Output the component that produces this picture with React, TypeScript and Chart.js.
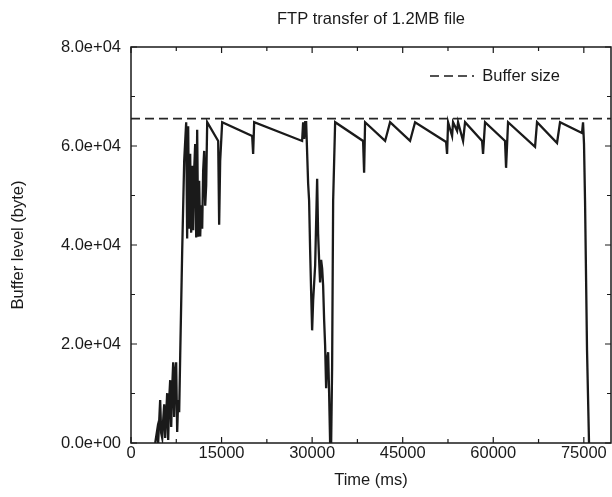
import React, { useEffect, useRef } from 'react';
import { Chart, registerables } from 'chart.js';

Chart.register(...registerables);

// ---- data ----
const timeMs = [
  4010, 4340, 4500, 4830, 5000, 5170, 5330, 5500, 5660, 5990, 6160, 6330, 6490, 6660, 6820, 6990, 7150, 7320, 7480, 7650, 7810, 7980, 8150, 8480, 8810, 9140,
  9300, 9470, 9630, 9800, 9970, 10130, 10300, 10460, 10630, 10800, 10960, 11130, 11290, 11460, 11620, 11790, 11950, 12120, 12290, 12450, 12620,
  14440, 14600, 14770, 15100, 20070, 20230, 20400,
  28340, 28510, 28680, 28850, 29010, 29340, 29500, 29670, 29830, 30000, 30170, 30500, 30830, 30990, 31160, 31320, 31490, 31660, 31820,
  31990, 32150, 32320, 32480, 32650, 32810, 32980, 33150, 33310, 33480, 33810,
  38440, 38610, 38770, 42090, 42910, 46220, 47050,
  52190, 52350, 52520, 53180, 53340, 54010, 54170, 55000, 55330,
  58150, 58310, 58640, 61950, 62120, 62450, 66920, 67250, 70560, 71060,
  74700, 74870, 75030, 75200, 75530, 75860,
];
const bufferBytes = [
  0, 2620, 0, 8660, 2000, 1010, 4630, 7800, 1010, 10070, 600, 9000, 12690, 3220, 11000, 16310, 5240, 14500, 16310, 2220, 8660, 6240, 17720, 38870, 57000, 64800,
  41300, 64000, 43300, 58410, 42500, 56000, 43000, 54980, 60420, 41500, 63260, 41690, 52970, 41700, 48000, 43300, 55000, 59010, 47930, 52000, 64800,
  61020, 44110, 57000, 64800, 62030, 58410, 64800,
  61020, 64800, 61430, 64800, 64800, 52360, 48940, 38870, 30810, 22760, 28800, 35850, 53370, 42290, 36860, 32430, 37000, 35250, 31820,
  24770, 19740, 11080, 16720, 18330, 10270, 0, 0, 15310, 48940, 64800,
  61020, 54580, 64800, 61020, 64800, 61020, 64800,
  60820, 58410, 64800, 62030, 64800, 63060, 64800, 61020, 64800,
  61020, 58410, 64800, 61020, 55590, 64800, 59820, 64800, 60620, 64800,
  62640, 64800, 60420, 48940, 18730, 0,
];
const bufferSize = 65536;
const xRange = [0, 79500];
const xTickValues = [0, 15000, 30000, 45000, 60000, 75000];
const xMinorStep = 7500;
const yTickValues = [0, 20000, 40000, 60000, 80000];
const yMinorStep = 10000;
const titleText = 'FTP transfer of 1.2MB file';
const xTitle = 'Time (ms)';
const yTitle = 'Buffer level (byte)';
const legendText = 'Buffer size';

function fmtExp(v: number): string {
  if (v === 0) return '0.0e+00';
  const e = Math.floor(Math.log10(Math.abs(v)));
  const m = v / Math.pow(10, e);
  const sign = e < 0 ? '-' : '+';
  const ae = Math.abs(e);
  return m.toFixed(1) + 'e' + sign + (ae < 10 ? '0' + ae : String(ae));
}

function hasFont(name: string): boolean {
  const c = document.createElement('canvas').getContext('2d');
  if (!c) return false;
  const s = 'abcdefghijklmnopqrstuvwxyz0123456789ABCDEFGHIJ';
  c.font = '40px monospace';
  const a = c.measureText(s).width;
  c.font = `40px "${name}", monospace`;
  const b = c.measureText(s).width;
  return Math.abs(a - b) > 0.5;
}

export default function App() {
  const ref = useRef<HTMLCanvasElement | null>(null);

  useEffect(() => {
    document.body.style.margin = '0';
    const canvas = ref.current;
    if (!canvas) return;
    const narrow = hasFont('Liberation Sans Narrow');
    const family = narrow ? '"Liberation Sans Narrow", "Liberation Sans", Arial, sans-serif' : '"Liberation Sans", Arial, sans-serif';
    const size = narrow ? 20 : 16.5;
    const ink = '#1a1a1a';
    const font = { family, size, lineHeight: 1.2 };
    const lh = size * 1.2;

    const framePlugin = {
      id: 'frameTicks',
      afterDatasetsDraw(chart: any) {
        const { ctx, chartArea: a, scales } = chart;
        const xs = scales.x;
        const ys = scales.y;
        ctx.save();
        ctx.strokeStyle = ink;
        ctx.lineWidth = 1.5;
        ctx.setLineDash([]);
        ctx.strokeRect(a.left, a.top, a.right - a.left, a.bottom - a.top);
        ctx.lineWidth = 1.2;
        ctx.beginPath();
        for (let v = 0; v <= xRange[1]; v += xMinorStep) {
          const px = xs.getPixelForValue(v);
          const len = xTickValues.includes(v) ? 6 : 4;
          ctx.moveTo(px, a.bottom);
          ctx.lineTo(px, a.bottom - len);
          ctx.moveTo(px, a.top);
          ctx.lineTo(px, a.top + len);
        }
        for (let v = 0; v <= 80000; v += yMinorStep) {
          const py = ys.getPixelForValue(v);
          const len = yTickValues.includes(v) ? 6 : 4;
          ctx.moveTo(a.left, py);
          ctx.lineTo(a.left + len, py);
          ctx.moveTo(a.right, py);
          ctx.lineTo(a.right - len, py);
        }
        ctx.stroke();

        // legend (inside plot, top right)
        const ly = 76;
        ctx.font = `${size}px ${family}`;
        ctx.fillStyle = ink;
        ctx.textAlign = 'right';
        ctx.textBaseline = 'middle';
        ctx.fillText(legendText, 560, ly);
        ctx.beginPath();
        ctx.lineWidth = 1.6;
        ctx.setLineDash([9, 5]);
        ctx.moveTo(430, ly);
        ctx.lineTo(474, ly);
        ctx.stroke();

        // title
        ctx.setLineDash([]);
        ctx.textAlign = 'center';
        ctx.fillText(titleText, (a.left + a.right) / 2, 19);
        ctx.restore();
      },
    };

    const chart = new Chart(canvas, {
      type: 'line',
      data: {
        datasets: [
          {
            label: 'Buffer level',
            data: timeMs.map((t, i) => ({ x: t, y: bufferBytes[i] })),
            borderColor: ink,
            borderWidth: 2.3,
            pointRadius: 0,
            tension: 0,
            fill: false,
          },
          {
            label: legendText,
            data: [
              { x: xRange[0], y: bufferSize },
              { x: xRange[1], y: bufferSize },
            ],
            borderColor: '#262626',
            borderWidth: 1.7,
            borderDash: [9, 5],
            pointRadius: 0,
            fill: false,
          },
        ],
      },
      options: {
        animation: false,
        responsive: false,
        maintainAspectRatio: false,
        events: [],
        layout: { padding: { top: 47, right: 1, left: 0, bottom: 0 } },
        plugins: {
          legend: { display: false },
          title: { display: false },
          tooltip: { enabled: false },
        },
        scales: {
          x: {
            type: 'linear',
            min: xRange[0],
            max: xRange[1],
            grid: { display: false, drawTicks: false },
            border: { display: false },
            afterBuildTicks: (s: any) => {
              s.ticks = xTickValues.map((v) => ({ value: v }));
            },
            ticks: {
              font,
              color: ink,
              padding: 1,
              maxRotation: 0,
              autoSkip: false,
              callback: (v: any) => String(v),
            },
            title: {
              display: true,
              text: xTitle,
              font,
              color: ink,
              padding: { top: 0, bottom: 17 - lh / 2 },
            },
            afterFit: (s: any) => {
              s.height = 54;
            },
          },
          y: {
            type: 'linear',
            min: 0,
            max: 80000,
            grid: { display: false, drawTicks: false },
            border: { display: false },
            afterBuildTicks: (s: any) => {
              s.ticks = yTickValues.map((v) => ({ value: v }));
            },
            ticks: {
              font,
              color: ink,
              padding: 10,
              autoSkip: false,
              callback: (v: any) => fmtExp(Number(v)),
            },
            title: {
              display: true,
              text: yTitle,
              font,
              color: ink,
              padding: { top: 18 - lh / 2, bottom: 0 },
            },
            afterFit: (s: any) => {
              s.width = 131;
            },
          },
        },
      },
      plugins: [framePlugin],
    } as any);

    return () => chart.destroy();
  }, []);

  return (
    <div style={{ width: 612, height: 497, background: '#fff' }}>
      <canvas ref={ref} width={612} height={497} style={{ display: 'block' }} />
    </div>
  );
}
